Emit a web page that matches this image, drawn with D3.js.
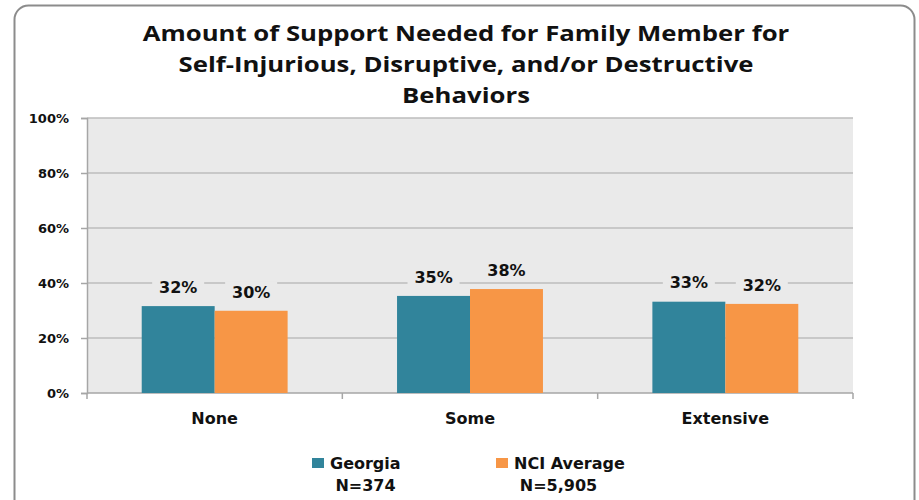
<!DOCTYPE html>
<html><head><meta charset="utf-8">
<script src="https://cdn.jsdelivr.net/npm/d3@7"></script>
<style>body{margin:0;background:#fff;}svg{display:block;font-family:"DejaVu Sans",sans-serif;}</style>
</head><body>
<svg id="c" width="919" height="500"></svg>
<script>
const categories = ["None", "Some", "Extensive"];
const seriesNames = ["Georgia", "NCI Average"];
const seriesN = ["N=374", "N=5,905"];
const georgia = [31.6, 35.3, 33.2];
const nciAverage = [29.9, 37.8, 32.4];
const yTicks = [0, 20, 40, 60, 80, 100];
const titleLines = ["Amount of Support Needed for Family Member for", "Self-Injurious, Disruptive, and/or Destructive", "Behaviors"];
const colors = ["#31849B", "#F79646"];

const svg = d3.select("#c");
svg.append("rect").attr("x", 14.5).attr("y", 5.5).attr("width", 900).attr("height", 520)
  .attr("rx", 14).attr("fill", "#fff").attr("stroke", "#8c8c8c").attr("stroke-width", 2);

const m = {l: 87, r: 853, t: 118, b: 393};
const x0 = d3.scaleBand().domain(categories).range([m.l, m.r]).paddingInner(0).paddingOuter(0);
const x1 = d3.scaleBand().domain(seriesNames).range([0, x0.bandwidth()]).paddingInner(0).paddingOuter(0.75);
const y = d3.scaleLinear().domain([0, 100]).range([m.b, m.t]);

svg.append("rect").attr("x", m.l).attr("y", m.t).attr("width", m.r - m.l).attr("height", m.b - m.t).attr("fill", "#EAEAEA");

svg.append("g").selectAll("line").data(yTicks.filter(d => d > 0)).join("line")
  .attr("x1", m.l).attr("x2", m.r).attr("y1", d => y(d)).attr("y2", d => y(d))
  .attr("stroke", "#BDBDBD").attr("stroke-width", 1.5);

const yAxis = svg.append("g").attr("transform", `translate(${m.l},0)`)
  .call(d3.axisLeft(y).tickValues(yTicks).tickFormat(d => d + "%").tickSize(6).tickPadding(12));
yAxis.select(".domain").attr("stroke", "#A6A6A6").attr("stroke-width", 1.5);
yAxis.selectAll(".tick line").attr("stroke", "#A6A6A6").attr("stroke-width", 1.5);
yAxis.selectAll("text").attr("font-size", 13).attr("font-weight", "bold").attr("fill", "#111").attr("font-family", "DejaVu Sans");

// bottom axis
svg.append("line").attr("x1", m.l).attr("x2", m.r).attr("y1", m.b).attr("y2", m.b).attr("stroke", "#A6A6A6").attr("stroke-width", 1.5);
const bounds = [m.l, ...categories.map(c => x0(c) + x0.bandwidth())];
svg.append("g").selectAll("line").data(bounds).join("line")
  .attr("x1", d => d).attr("x2", d => d).attr("y1", m.b).attr("y2", m.b + 6)
  .attr("stroke", "#A6A6A6").attr("stroke-width", 1.5);
svg.append("g").selectAll("text").data(categories).join("text")
  .attr("x", d => x0(d) + x0.bandwidth() / 2).attr("y", 424).attr("text-anchor", "middle")
  .attr("font-size", 16).attr("font-weight", "bold").attr("fill", "#111").text(d => d);

const data = [];
categories.forEach((c, i) => {
  data.push({c, s: seriesNames[0], v: georgia[i], k: 0});
  data.push({c, s: seriesNames[1], v: nciAverage[i], k: 1});
});

svg.append("g").selectAll("rect").data(data).join("rect")
  .attr("x", d => x0(d.c) + x1(d.s)).attr("width", x1.bandwidth())
  .attr("y", d => y(d.v)).attr("height", d => y(0) - y(d.v)).attr("fill", d => colors[d.k]);

const lbl = svg.append("g").selectAll("g").data(data).join("g")
  .attr("transform", d => `translate(${x0(d.c) + x1(d.s) + x1.bandwidth() / 2},${y(d.v) - 19})`);
lbl.append("rect").attr("x", -26).attr("y", -10).attr("width", 52).attr("height", 20).attr("fill", "#EAEAEA");
lbl.append("text").attr("text-anchor", "middle").attr("dy", "0.36em").attr("font-size", 16).attr("font-weight", "bold")
  .attr("fill", "#111").text(d => Math.round(d.v) + "%");

svg.append("g").attr("transform", "translate(466,0) scale(1.17,1)")
  .selectAll("text").data(titleLines).join("text")
  .attr("x", 0).attr("y", (d, i) => 41 + i * 31).attr("text-anchor", "middle")
  .attr("font-family", "Open Sans")
  .attr("font-size", 22).attr("font-weight", "bold").attr("fill", "#111").text(d => d);

const lx = [312, 496];
const lg = svg.append("g").selectAll("g").data(seriesNames).join("g");
lg.append("rect").attr("x", (d, i) => lx[i]).attr("y", 458).attr("width", 12).attr("height", 10).attr("fill", (d, i) => colors[i]);
lg.append("text").attr("x", (d, i) => lx[i] + 18).attr("y", 469).attr("font-size", 16).attr("font-weight", "bold").attr("fill", "#111").text(d => d);
lg.append("text").attr("x", (d, i) => [365.5, 558.5][i]).attr("y", 491).attr("text-anchor", "middle")
  .attr("font-size", 16).attr("font-weight", "bold").attr("fill", "#111").text((d, i) => seriesN[i]);
</script>
</body></html>
